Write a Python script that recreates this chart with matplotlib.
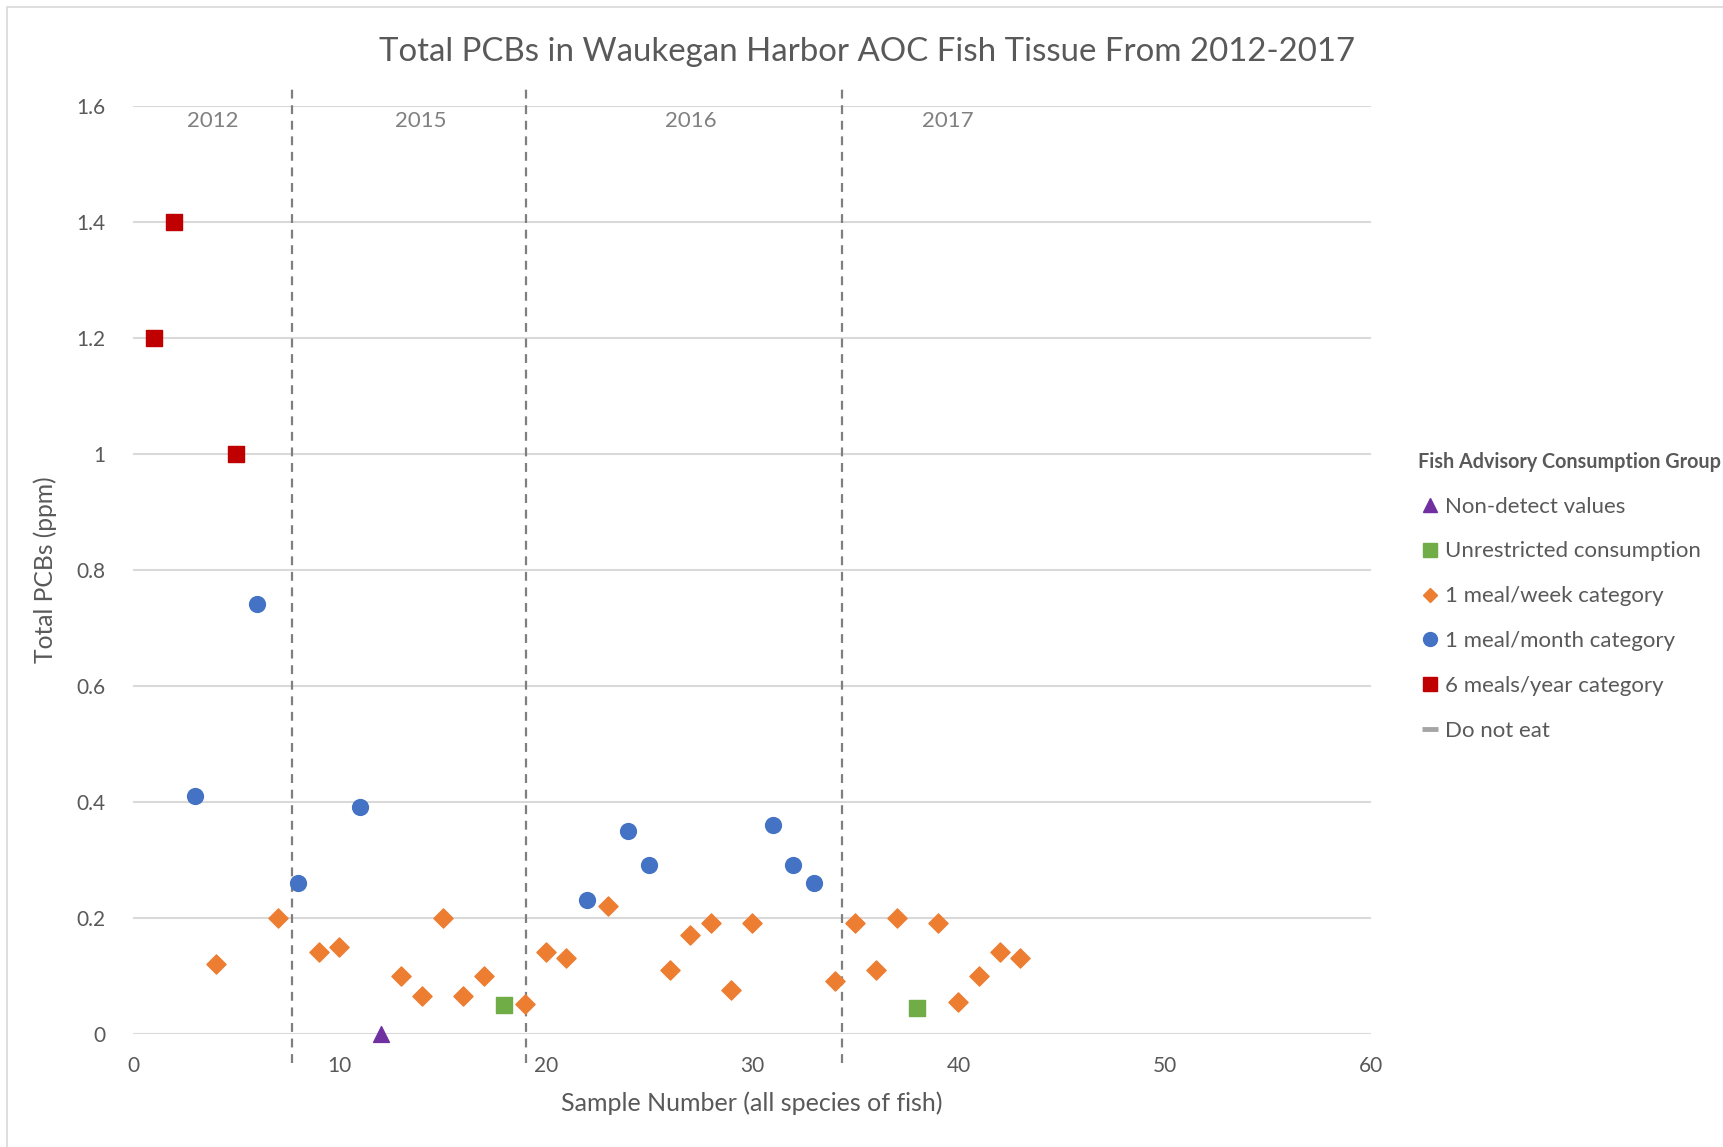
import matplotlib
matplotlib.use("Agg")
from matplotlib import pyplot as plt
from matplotlib.lines import Line2D
from matplotlib.patches import Rectangle
from matplotlib.ticker import FuncFormatter, MultipleLocator

plt.rcParams["font.family"] = ["Lato", "DejaVu Sans"]

# data
nondetect_x = [12]
nondetect_y = [0.0]

unrestricted_x = [18, 38]
unrestricted_y = [0.05, 0.045]

week_x = [4, 7, 9, 10, 13, 14, 15, 16, 17, 19, 20, 21, 23, 26, 27, 28, 29, 30,
          34, 35, 36, 37, 39, 40, 41, 42, 43]
week_y = [0.12, 0.20, 0.14, 0.15, 0.10, 0.065, 0.20, 0.065, 0.10, 0.052, 0.14,
          0.13, 0.22, 0.11, 0.17, 0.19, 0.076, 0.19, 0.09, 0.19, 0.11, 0.20,
          0.19, 0.055, 0.10, 0.14, 0.13]

month_x = [3, 6, 8, 11, 22, 24, 25, 31, 32, 33]
month_y = [0.41, 0.74, 0.26, 0.39, 0.23, 0.35, 0.29, 0.36, 0.29, 0.26]

sixyear_x = [1, 2, 5]
sixyear_y = [1.2, 1.4, 1.0]

year_breaks = [7.7, 19.05, 34.35]
year_labels = ["2012", "2015", "2016", "2017"]
year_label_x = [3.85, 13.95, 27.05, 39.5]

TEXT = "#595959"

fig = plt.figure(figsize=(17.24, 11.47), dpi=100)
ax = fig.add_axes([0.0772, 0.0988, 0.7181, 0.8092])

# chart border
fig.patches.append(Rectangle((0.004, -0.05), 1.2, 1.044, transform=fig.transFigure,
                             fill=False, edgecolor="#d9d9d9", lw=1.2))

ax.set_xlim(0, 60)
ax.set_ylim(0, 1.6)
ax.xaxis.set_major_locator(MultipleLocator(10))
ax.yaxis.set_major_locator(MultipleLocator(0.2))
ax.yaxis.set_major_formatter(FuncFormatter(lambda v, p: "%g" % round(v, 2)))
ax.grid(axis="y", color="#d9d9d9", lw=1.5)
ax.set_axisbelow(True)
for s in ax.spines.values():
    s.set_visible(False)
ax.tick_params(length=0, labelsize=15, labelcolor=TEXT)
ax.tick_params(axis="x", pad=16)
ax.tick_params(axis="y", pad=20)

for xb in year_breaks:
    ax.plot([xb, xb], [-0.05, 1.63], ls=(0, (4, 3)), color="#7f7f7f", lw=1.6,
            clip_on=False, zorder=1)
for lab, lx in zip(year_labels, year_label_x):
    ax.text(lx, 1.573, lab, ha="center", va="center", fontsize=16, color="#808080")

ax.scatter(week_x, week_y, marker="D", s=95, color="#ED7D31", zorder=3,
           clip_on=False)
ax.scatter(month_x, month_y, marker="o", s=130, color="#4472C4", zorder=3)
ax.scatter(sixyear_x, sixyear_y, marker="s", s=130, color="#C00000", zorder=3)
ax.scatter(unrestricted_x, unrestricted_y, marker="s", s=130, color="#70AD47",
           zorder=3)
ax.scatter(nondetect_x, nondetect_y, marker="^", s=130, color="#7030A0", zorder=3,
           clip_on=False)

ax.set_xlabel("Sample Number (all species of fish)", fontsize=18, color=TEXT,
              labelpad=11)
ax.set_ylabel("Total PCBs (ppm)", fontsize=17.7, color=TEXT, labelpad=14)
fig.text(0.503, 0.955, "Total PCBs in Waukegan Harbor AOC Fish Tissue From 2012-2017",
         ha="center", va="center", fontsize=23.8, color=TEXT)

handles = [
    Line2D([], [], ls="none", marker="^", ms=10, color="#7030A0"),
    Line2D([], [], ls="none", marker="s", ms=10, color="#70AD47"),
    Line2D([], [], ls="none", marker="D", ms=7.5, color="#ED7D31"),
    Line2D([], [], ls="none", marker="o", ms=10, color="#4472C4"),
    Line2D([], [], ls="none", marker="s", ms=10, color="#C00000"),
    Line2D([], [], ls="none", marker="_", ms=12, mew=3.5, color="#A5A5A5"),
]
labels = ["Non-detect values", "Unrestricted consumption", "1 meal/week category",
          "1 meal/month category", "6 meals/year category", "Do not eat"]
leg = fig.legend(handles, labels, loc="upper left", bbox_to_anchor=(0.8175, 0.614),
                 frameon=False, fontsize=16, handlelength=1.1, handletextpad=0.12,
                 labelspacing=1.12, title="Fish Advisory Consumption Group",
                 alignment="left", borderaxespad=0)
leg.get_title().set_fontweight("bold")
leg.get_title().set_fontsize(14.2)
leg.get_title().set_color(TEXT)
for t in leg.get_texts():
    t.set_color(TEXT)

fig.savefig("out.png", dpi=100)
